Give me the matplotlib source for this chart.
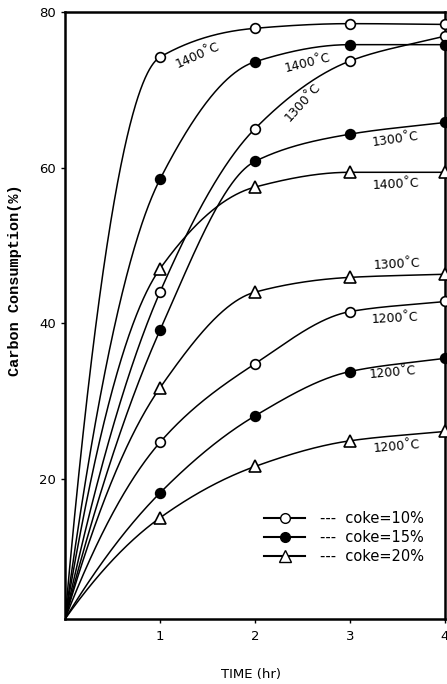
import numpy as np
import matplotlib.pyplot as plt
from matplotlib.lines import Line2D

# === Data ===
time_hr = [0, 1, 2, 3, 4]

# coke = 10 % (open circles)
c10_1400 = [2, 74.2, 77.9, 78.5, 78.4]
c10_1300 = [2, 44.0, 65.0, 73.7, 76.9]
c10_1200 = [2, 24.7, 34.8, 41.5, 42.8]

# coke = 15 % (filled circles)
c15_1400 = [2, 58.5, 73.6, 75.8, 75.8]
c15_1300 = [2, 39.1, 60.8, 64.3, 65.8]
c15_1200 = [2, 18.2, 28.1, 33.8, 35.5]

# coke = 20 % (triangles)
c20_1400 = [2, 47.0, 57.5, 59.4, 59.4]
c20_1300 = [2, 31.7, 44.0, 45.9, 46.3]
c20_1200 = [2, 15.0, 21.6, 24.9, 26.1]

series = [
    (c10_1400, 'o', 'white'), (c10_1300, 'o', 'white'), (c10_1200, 'o', 'white'),
    (c15_1400, 'o', 'black'), (c15_1300, 'o', 'black'), (c15_1200, 'o', 'black'),
    (c20_1400, '^', 'white'), (c20_1300, '^', 'white'), (c20_1200, '^', 'white'),
]

# temperature labels: (text, x, y, rotation)
temp_labels = [
    ("1400˚C", 1.40, 74.5, 24),
    ("1400˚C", 2.55, 73.4, 14),
    ("1300˚C", 2.50, 68.4, 48),
    ("1300˚C", 3.48, 63.6, 8),
    ("1400˚C", 3.48, 57.8, 3),
    ("1300˚C", 3.49, 47.6, 3),
    ("1200˚C", 3.47, 40.7, 3),
    ("1200˚C", 3.45, 33.7, 5),
    ("1200˚C", 3.49, 24.2, 5),
]


# === Helper: smooth monotone cubic curve through the points ===
def smooth_curve(x, y, n=200):
    x = np.asarray(x, float)
    y = np.asarray(y, float)
    h = np.diff(x)
    d = np.diff(y) / h
    m = np.zeros_like(y)
    for i in range(1, len(x) - 1):
        if d[i - 1] * d[i] > 0:
            m[i] = 2 / (1 / d[i - 1] + 1 / d[i])
    m[0] = 2 * d[0] - m[1]
    m[-1] = d[-1]
    xs, ys = [], []
    for i in range(len(x) - 1):
        s = np.linspace(0, 1, n)
        h00 = 2 * s**3 - 3 * s**2 + 1
        h10 = s**3 - 2 * s**2 + s
        h01 = -2 * s**3 + 3 * s**2
        h11 = s**3 - s**2
        xs.append(x[i] + s * h[i])
        ys.append(h00 * y[i] + h10 * h[i] * m[i] + h01 * y[i + 1] + h11 * h[i] * m[i + 1])
    return np.concatenate(xs), np.concatenate(ys)


# === Plot ===
fig = plt.figure(figsize=(4.47, 6.84), dpi=100)
ax = fig.add_axes([0.1454, 0.095, 0.850, 0.8875])

for vals, mk, fc in series:
    xs, ys = smooth_curve(time_hr, vals)
    ax.plot(xs, ys, color='black', lw=1.1)
    ax.plot(time_hr[1:], vals[1:], ls='none', marker=mk, ms=7 if mk == 'o' else 8,
            mfc=fc, mec='black', mew=1.2, clip_on=False, zorder=3)

for txt, x, y, rot in temp_labels:
    ax.text(x, y, txt, rotation=rot, ha='center', va='center', fontsize=9,
            family='Liberation Sans Narrow', rotation_mode='anchor')

ax.set_xlim(0, 4)
ax.set_ylim(2, 80)
ax.set_xticks([1, 2, 3, 4])
ax.set_yticks([20, 40, 60, 80])
ax.tick_params(axis='both', direction='out', length=3, width=1, labelsize=9.5)
ax.tick_params(axis='x', pad=5)
for sp in ax.spines.values():
    sp.set_linewidth(1.8)

ax.set_ylabel("Carbon Consumption(%)", family='Liberation Mono', fontweight='bold',
              fontsize=11)
ax.yaxis.set_label_coords(-0.113, 0.558)
ax.set_xlabel("TIME (hr)", fontsize=9.5, va='center')
ax.xaxis.set_label_coords(0.49, -0.092)

handles = [
    Line2D([], [], color='black', lw=1.5, marker='o', mfc='white', mec='black', ms=7),
    Line2D([], [], color='black', lw=1.5, marker='o', mfc='black', mec='black', ms=7),
    Line2D([], [], color='black', lw=1.5, marker='^', mfc='white', mec='black', ms=8),
]
labels = ["---  coke=10%", "---  coke=15%", "---  coke=20%"]
ax.legend(handles, labels, loc='upper left', bbox_to_anchor=(0.49, 0.2), frameon=False,
          fontsize=10.5, handlelength=2.8, labelspacing=0.3, handletextpad=1.0)

fig.savefig("out.png", dpi=100)
